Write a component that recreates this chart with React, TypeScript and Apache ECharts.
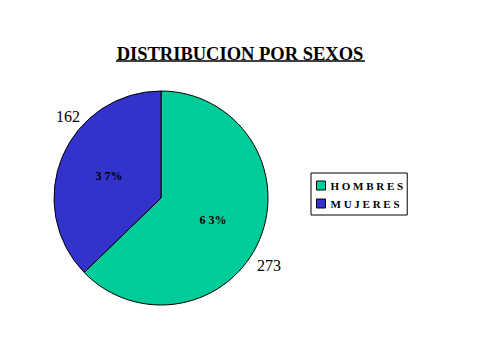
import React, { useEffect, useRef } from "react";
import * as echarts from "echarts";

const categories = ["HOMBRES", "MUJERES"];
const values = [273, 162];
const colors = ["#00CC99", "#3333CC"];
const titleText = "DISTRIBUCION POR SEXOS";

const serif = "'Liberation Serif', 'Times New Roman', serif";

export default function App() {
  const ref = useRef<HTMLDivElement>(null);

  useEffect(() => {
    document.body.style.margin = "0";
    const chart = echarts.init(ref.current!, undefined, { renderer: "svg" });
    const data = categories.map((name, i) => ({
      name,
      value: values[i],
      itemStyle: { color: colors[i] },
    }));
    // anchors of the value labels outside the pie, per slice
    const outerPos = [
      { x: 269, y: 265 },
      { x: 68, y: 116 },
    ];
    chart.setOption({
      animation: false,
      backgroundColor: "#ffffff",
      title: {
        text: titleText,
        left: "center",
        top: 39,
        textStyle: {
          fontFamily: serif,
          fontWeight: "bold",
          fontSize: 18.5,
          color: "#000",
        },
      },
      graphic: [
        {
          type: "line",
          shape: { x1: 116, y1: 61, x2: 365, y2: 61 },
          style: { stroke: "#000", lineWidth: 1.5 },
        },
      ],
      legend: {
        orient: "vertical",
        left: 311,
        top: 173,
        padding: [7, 4, 6, 5],
        itemGap: 7,
        itemWidth: 9,
        itemHeight: 9,
        icon: "rect",
        borderColor: "#000",
        borderWidth: 1,
        data: categories,
        itemStyle: { borderColor: "#000", borderWidth: 1 },
        formatter: (name: string) => name.split("").join(" "),
        textStyle: {
          fontFamily: serif,
          fontWeight: "bold",
          fontSize: 11,
          color: "#000",
          padding: [0, 2, 0, 0],
        },
      },
      series: [
        {
          type: "pie",
          center: [161, 198],
          radius: 107,
          startAngle: 90,
          clockwise: true,
          data,
          itemStyle: { borderColor: "#000", borderWidth: 1 },
          label: {
            position: "inside",
            formatter: (p: any) => {
              const s = String(Math.round(p.percent));
              return s.split("").join(" ") + "%";
            },
            fontFamily: serif,
            fontWeight: "bold",
            fontSize: 12,
            color: "#000",
          },
          labelLine: { show: false },
          emphasis: { disabled: true },
        },
        {
          type: "pie",
          center: [161, 198],
          radius: 107,
          startAngle: 90,
          clockwise: true,
          silent: true,
          avoidLabelOverlap: false,
          data: categories.map((name, i) => ({ name, value: values[i] })),
          itemStyle: { color: "transparent", borderWidth: 0 },
          label: {
            position: "inside",
            formatter: "{c}",
            fontFamily: serif,
            fontSize: 16,
            color: "#000",
          },
          labelLine: { show: false },
          labelLayout: (p: any) => ({
            x: outerPos[p.dataIndex].x,
            y: outerPos[p.dataIndex].y,
            align: "center",
            verticalAlign: "middle",
          }),
        },
      ],
    });
    return () => chart.dispose();
  }, []);

  return <div ref={ref} style={{ width: 480, height: 360 }} />;
}
